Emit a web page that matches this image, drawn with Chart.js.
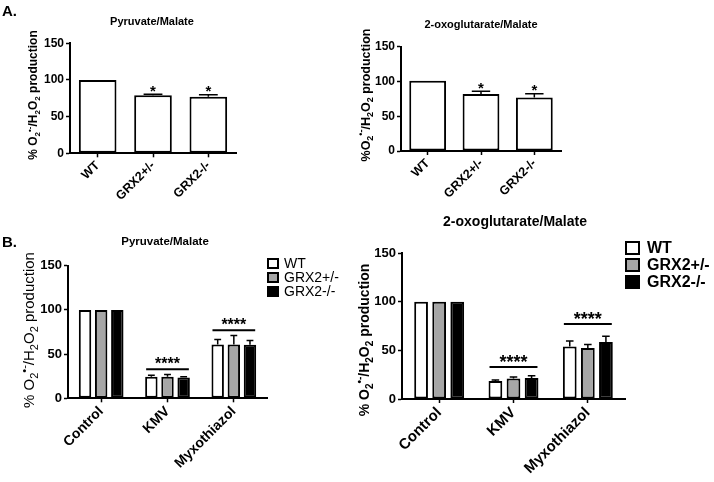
<!DOCTYPE html>
<html>
<head>
<meta charset="utf-8">
<script src="https://cdn.jsdelivr.net/npm/chart.js@4.4.1/dist/chart.umd.min.js"></script>
<style>
  body { margin: 0; background: #fff; width: 714px; height: 482px; position: relative; overflow: hidden; }
  canvas { position: absolute; }
</style>
</head>
<body>
<canvas id="a1"></canvas>
<canvas id="a2"></canvas>
<canvas id="b1"></canvas>
<canvas id="b2"></canvas>
<script>
const genotypes = [ 'WT', 'GRX2+/-', 'GRX2-/-' ]
const treatments = [ 'Control', 'KMV', 'Myxothiazol' ]
const barColors = [ '#ffffff', '#a6a6a6', '#000000' ]

// A. single substrate, one bar per genotype
const pmSingle = [ 100, 79, 77 ]
const pmSingleErr = [ 0, 1.5, 3 ]
const ogSingle = [ 101, 82, 77 ]
const ogSingleErr = [ 0, 4, 5.5 ]
const singleStars = [ '', '*', '*' ]

// B. pyruvate/malate with inhibitors
const pmWT = [ 100, 24.5, 61 ]
const pmWTErr = [ 0, 1.5, 5.5 ]
const pmHet = [ 100, 24.5, 61 ]
const pmHetErr = [ 0, 2.5, 10 ]
const pmKO = [ 100, 23.5, 60.5 ]
const pmKOErr = [ 0, 1, 5 ]

// B. 2-oxoglutarate/malate with inhibitors
const ogWT = [ 100, 18.5, 54 ]
const ogWTErr = [ 0, 1, 5.5 ]
const ogHet = [ 100, 21, 52.5 ]
const ogHetErr = [ 0, 1.5, 3.5 ]
const ogKO = [ 100, 21.5, 58.5 ]
const ogKOErr = [ 0, 2.5, 6 ]

// significance bars over each treatment group
const sigLevels = [ null, 33, 77 ]
const sigLabels = [ '', '****', '****' ]

const FONT = '"Liberation Sans", Arial, sans-serif'
Chart.defaults.font.family = FONT
Chart.defaults.color = '#000'

const yLabelSpaced = [ [ '% O' ], [ '2', 'sub' ], [ '\u2022-', 'sup' ], [ '/H' ], [ '2', 'sub' ], [ 'O' ], [ '2', 'sub' ], [ ' production' ] ]
const yLabelTight = [ [ '%O' ], [ '2', 'sub' ], [ '\u2022-', 'sup' ], [ '/H' ], [ '2', 'sub' ], [ 'O' ], [ '2', 'sub' ], [ ' production' ] ]

function drawRich( ctx, segs, x, y, size, weight ) {
   const small = Math.round( size * 0.7 )
   const fontFor = ( kind ) => `${weight} ${kind ? small : size}px ${FONT}`
   let total = 0
   segs.forEach( ( [ t, kind ] ) => {
      ctx.font = fontFor( kind )
      total += ctx.measureText( t ).width
   } )
   ctx.save()
   ctx.translate( x, y )
   ctx.rotate( -Math.PI / 2 )
   ctx.textBaseline = 'alphabetic'
   ctx.textAlign = 'left'
   ctx.fillStyle = '#000'
   let cx = -total / 2
   const base = size * 0.36
   segs.forEach( ( [ t, kind ] ) => {
      ctx.font = fontFor( kind )
      let dy = 0
      if ( kind === 'sub' ) dy = size * 0.25
      if ( kind === 'sup' ) dy = -size * 0.42
      ctx.fillText( t, cx, base + dy )
      cx += ctx.measureText( t ).width
   } )
   ctx.restore()
}

const extras = {
   id: 'extras',
   afterDatasetsDraw( chart, args, o ) {
      const { ctx } = chart
      const yScale = chart.scales.y
      ctx.save()

      // upper error bars
      chart.data.datasets.forEach( ( ds, di ) => {
         const meta = chart.getDatasetMeta( di )
         meta.data.forEach( ( bar, i ) => {
            const err = ds.errors[ i ]
            if ( ! err ) return
            const top = yScale.getPixelForValue( ds.data[ i ] + err )
            const half = bar.width * o.capRatio / 2
            ctx.strokeStyle = '#000'
            ctx.lineWidth = 1.5
            ctx.beginPath()
            ctx.moveTo( bar.x, bar.y )
            ctx.lineTo( bar.x, top )
            ctx.moveTo( bar.x - half, top )
            ctx.lineTo( bar.x + half, top )
            ctx.stroke()
         } )
      } )

      ctx.fillStyle = '#000'
      ctx.textAlign = 'center'
      ctx.textBaseline = 'alphabetic'

      // single asterisks above bars
      if ( o.stars ) {
         const ds = chart.data.datasets[ 0 ]
         const meta = chart.getDatasetMeta( 0 )
         ctx.font = `bold ${o.starSize}px ${FONT}`
         o.stars.forEach( ( s, i ) => {
            if ( ! s ) return
            const top = yScale.getPixelForValue( ds.data[ i ] + ds.errors[ i ] )
            ctx.fillText( s, meta.data[ i ].x, top - 5 + o.starSize * 0.43 )
         } )
      }

      // group significance lines
      if ( o.sig ) {
         const first = chart.getDatasetMeta( 0 )
         const last = chart.getDatasetMeta( chart.data.datasets.length - 1 )
         ctx.font = `bold ${o.starSize}px ${FONT}`
         o.sig.levels.forEach( ( lv, i ) => {
            if ( lv == null ) return
            const b0 = first.data[ i ]
            const b1 = last.data[ i ]
            const x0 = b0.x - b0.width / 2 + 1
            const x1 = b1.x + b1.width / 2 - 1
            const y = yScale.getPixelForValue( lv )
            ctx.lineWidth = 2
            ctx.beginPath()
            ctx.moveTo( x0, y )
            ctx.lineTo( x1, y )
            ctx.stroke()
            ctx.fillText( o.sig.labels[ i ], ( x0 + x1 ) / 2, y - 7 + o.starSize * 0.43 )
         } )
      }
      ctx.restore()
   },
   afterDraw( chart, args, o ) {
      const { ctx } = chart
      ctx.save()
      ctx.fillStyle = '#000'
      ctx.textBaseline = 'middle'
      ctx.textAlign = 'center'
      ctx.font = `bold ${o.titleSize}px ${FONT}`
      ctx.fillText( o.title, o.titleX, o.titleY )

      if ( o.letter ) {
         ctx.textAlign = 'left'
         ctx.textBaseline = 'alphabetic'
         ctx.font = `bold 15px ${FONT}`
         ctx.fillText( o.letter, o.letterX, o.letterY )
      }

      drawRich( ctx, o.yLabel, o.yLabelX, o.yLabelY, o.yLabelSize, o.yLabelWeight )

      if ( o.legend ) {
         const L = o.legend
         chart.data.datasets.forEach( ( ds, i ) => {
            const y = L.y + i * L.gap
            ctx.fillStyle = ds.backgroundColor
            ctx.fillRect( L.x, y, L.w, L.h )
            ctx.strokeStyle = '#000'
            ctx.lineWidth = 2
            ctx.strokeRect( L.x + 1, y + 1, L.w - 2, L.h - 2 )
            ctx.fillStyle = '#000'
            ctx.textAlign = 'left'
            ctx.textBaseline = 'middle'
            ctx.font = `${L.weight} ${L.size}px ${FONT}`
            ctx.fillText( ds.label, L.x + L.w + L.pad, y + L.h / 2 + 1 )
         } )
      }
      ctx.restore()
   },
}

function makePanel( id, p, labels, datasets, ex ) {
   const cvs = document.getElementById( id )
   cvs.width = p.canvas.w
   cvs.height = p.canvas.h
   cvs.style.left = p.canvas.x + 'px'
   cvs.style.top = p.canvas.y + 'px'
   const ox = p.canvas.x
   const oy = p.canvas.y

   const padding = {
      left: p.area.l - ox - p.yW,
      top: p.area.t - oy,
      right: ox + p.canvas.w - p.area.r,
      bottom: oy + p.canvas.h - p.area.b - p.xH,
   }

   // move page coordinates into this canvas
   const local = { ...ex }
   local.titleX -= ox
   local.titleY -= oy
   local.yLabelX -= ox
   local.yLabelY -= oy
   if ( local.letter ) {
      local.letterX -= ox
      local.letterY -= oy
   }
   if ( local.legend ) {
      local.legend = { ...local.legend, x: local.legend.x - ox, y: local.legend.y - oy }
   }

   return new Chart( cvs.getContext( '2d' ), {
      type: 'bar',
      data: { labels, datasets },
      plugins: [ extras ],
      options: {
         responsive: false,
         animation: false,
         devicePixelRatio: 1,
         layout: { padding },
         datasets: {
            bar: {
               borderColor: '#000',
               borderWidth: 2,
               borderSkipped: false,
               categoryPercentage: p.catPct,
               barPercentage: p.barPct,
            },
         },
         plugins: {
            legend: { display: false },
            tooltip: { enabled: false },
            extras: local,
         },
         scales: {
            x: {
               afterFit: ( s ) => { s.height = p.xH },
               grid: {
                  offset: false,
                  drawOnChartArea: false,
                  drawTicks: true,
                  tickLength: 4,
                  tickWidth: 1.5,
                  tickColor: '#000',
               },
               border: { display: true, color: '#000', width: 2 },
               ticks: {
                  maxRotation: 45,
                  minRotation: 45,
                  padding: 1,
                  autoSkip: false,
                  color: '#000',
                  font: { size: p.catSize, weight: 'bold' },
               },
            },
            y: {
               min: 0,
               max: 150,
               afterFit: ( s ) => { s.width = p.yW },
               grid: {
                  drawOnChartArea: false,
                  drawTicks: true,
                  tickLength: 4,
                  tickWidth: 1.5,
                  tickColor: '#000',
               },
               border: { display: true, color: '#000', width: 2 },
               ticks: {
                  stepSize: 50,
                  padding: 2,
                  color: '#000',
                  font: { size: p.tickSize, weight: 'bold' },
               },
            },
         },
      },
   } )
}

function singleSet( values, errors ) {
   return [ { label: 'value', data: values, errors, backgroundColor: '#ffffff' } ]
}

function groupSets( series, errs ) {
   return genotypes.map( ( g, i ) => ( {
      label: g,
      data: series[ i ],
      errors: errs[ i ],
      backgroundColor: barColors[ i ],
   } ) )
}

makePanel( 'a1',
   { canvas: { x: 0, y: 0, w: 357, h: 230 }, area: { l: 70, t: 43.3, r: 236, b: 153.3 }, yW: 40, xH: 60,
      catPct: 0.68, barPct: 1, tickSize: 12, catSize: 12.5 },
   genotypes, singleSet( pmSingle, pmSingleErr ),
   { title: 'Pyruvate/Malate', titleX: 152, titleY: 22, titleSize: 11,
      letter: 'A.', letterX: 2, letterY: 16,
      yLabel: yLabelSpaced, yLabelX: 33, yLabelY: 95, yLabelSize: 12, yLabelWeight: 'bold',
      stars: singleStars, starSize: 15, capRatio: 0.5 } )

makePanel( 'a2',
   { canvas: { x: 357, y: 0, w: 357, h: 205 }, area: { l: 401, t: 46.7, r: 561, b: 151 }, yW: 40, xH: 50,
      catPct: 0.69, barPct: 1, tickSize: 12, catSize: 12.5 },
   genotypes, singleSet( ogSingle, ogSingleErr ),
   { title: '2-oxoglutarate/Malate', titleX: 481, titleY: 25, titleSize: 11,
      yLabel: yLabelTight, yLabelX: 365, yLabelY: 95, yLabelSize: 12.5, yLabelWeight: 'bold',
      stars: singleStars, starSize: 15, capRatio: 0.5 } )

makePanel( 'b1',
   { canvas: { x: 0, y: 230, w: 357, h: 252 }, area: { l: 68, t: 265.7, r: 267, b: 398.3 }, yW: 40, xH: 75,
      catPct: 0.73, barPct: 0.77, tickSize: 13, catSize: 14 },
   treatments, groupSets( [ pmWT, pmHet, pmKO ], [ pmWTErr, pmHetErr, pmKOErr ] ),
   { title: 'Pyruvate/Malate', titleX: 165, titleY: 242, titleSize: 11.5,
      letter: 'B.', letterX: 2, letterY: 247,
      yLabel: yLabelSpaced, yLabelX: 29, yLabelY: 330, yLabelSize: 15, yLabelWeight: 'normal',
      sig: { levels: sigLevels, labels: sigLabels }, starSize: 16, capRatio: 0.55,
      legend: { x: 267, y: 258, w: 12, h: 11, gap: 14, pad: 5, size: 14, weight: 'normal' } } )

makePanel( 'b2',
   { canvas: { x: 357, y: 205, w: 357, h: 277 }, area: { l: 402, t: 253, r: 625, b: 399 }, yW: 40, xH: 75,
      catPct: 0.73, barPct: 0.76, tickSize: 13, catSize: 15 },
   treatments, groupSets( [ ogWT, ogHet, ogKO ], [ ogWTErr, ogHetErr, ogKOErr ] ),
   { title: '2-oxoglutarate/Malate', titleX: 515, titleY: 222, titleSize: 14,
      yLabel: yLabelSpaced, yLabelX: 364, yLabelY: 340, yLabelSize: 14, yLabelWeight: 'bold',
      sig: { levels: sigLevels, labels: sigLabels }, starSize: 18, capRatio: 0.55,
      legend: { x: 625, y: 241, w: 15, h: 14, gap: 17, pad: 7, size: 16, weight: 'bold' } } )
</script>
</body>
</html>
